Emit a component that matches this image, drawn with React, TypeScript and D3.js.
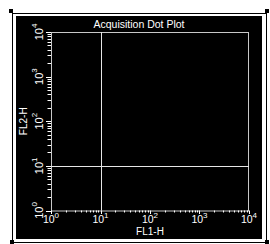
import * as d3 from "d3";

// chart content
const title = "Acquisition Dot Plot";
const xTitle = "FL1-H";
const yTitle = "FL2-H";
const decades = [0, 1, 2, 3, 4];
const xDomain = [1, 10000];
const yDomain = [1, 10000];
const quadrantX = 10;
const quadrantY = 10;

const W = 270;
const H = 244;
const FONT = "'Liberation Sans', Arial, sans-serif";

// plot area inside the black panel
const panel = { x0: 16, y0: 16, x1: 262, y1: 239 };
const plot = { x0: 51, y0: 32, x1: 249, y1: 210.5 };

export default function App() {
  const x = d3.scaleLog().domain(xDomain).range([plot.x0, plot.x1]);
  const y = d3.scaleLog().domain(yDomain).range([plot.y1, plot.y0]);

  const isMajor = (v: number) => Math.abs(Math.log10(v) - Math.round(Math.log10(v))) < 1e-9;
  const xTicks = x.ticks();
  const yTicks = y.ticks();

  // little black grab handles at the corners of the outer frame
  const handles = [
    [9, 9],
    [265, 9],
    [10, 240],
    [265, 240],
  ];

  return (
    <div style={{ position: "fixed", left: 0, top: 0 }}>
      <svg width={W} height={H} style={{ display: "block", fontFamily: FONT }}>
        <rect x={0} y={0} width={W} height={H} fill="#fff" />
        {/* outer frame */}
        <rect x={12.5} y={13.5} width={254} height={229} fill="none" stroke="#000" strokeWidth={1} />
        {handles.map(([hx, hy], i) => (
          <rect key={i} x={hx} y={hy} width={4} height={4} fill="#000" />
        ))}
        {/* black panel */}
        <rect x={panel.x0} y={panel.y0} width={panel.x1 - panel.x0} height={panel.y1 - panel.y0} fill="#000" />

        <text
          x={(panel.x0 + panel.x1) / 2}
          y={28}
          textAnchor="middle"
          fontSize={10.5}
          fill="#fff"
        >
          {title}
        </text>

        {/* plot frame */}
        <rect
          x={plot.x0 + 0.5}
          y={plot.y0 + 0.5}
          width={plot.x1 - plot.x0 - 1}
          height={plot.y1 - plot.y0}
          fill="none"
          stroke="#c8c8c8"
          strokeWidth={1}
        />

        {/* quadrant markers */}
        <line x1={Math.round(x(quadrantX)) + 0.5} x2={Math.round(x(quadrantX)) + 0.5} y1={plot.y0} y2={plot.y1} stroke="#e6e6e6" />
        <line x1={plot.x0} x2={plot.x1} y1={Math.round(y(quadrantY)) + 0.5} y2={Math.round(y(quadrantY)) + 0.5} stroke="#e6e6e6" />

        {/* x ticks */}
        {xTicks.map((t, i) => {
          const px = Math.round(x(t)) + 0.5;
          return (
            <line key={"xt" + i} x1={px} x2={px} y1={plot.y1} y2={plot.y1 + (isMajor(t) ? 3.5 : 2)} stroke="#fff" />
          );
        })}
        {/* y ticks */}
        {yTicks.map((t, i) => {
          const py = Math.round(y(t)) + 0.5;
          return (
            <line key={"yt" + i} x1={plot.x0 - (isMajor(t) ? 5 : 3.5)} x2={plot.x0} y1={py} y2={py} stroke="#fff" />
          );
        })}

        {/* x tick labels */}
        {decades.map((d) => (
          <text key={"xl" + d} x={x(Math.pow(10, d))} y={223} textAnchor="middle" fontSize={10.5} fill="#fff">
            <tspan>10</tspan>
            <tspan dy={-5} fontSize={8}>{d}</tspan>
          </text>
        ))}
        {/* y tick labels, rotated */}
        {decades.map((d) => {
          const py = y(Math.pow(10, d));
          return (
            <text
              key={"yl" + d}
              x={43}
              y={py}
              transform={`rotate(-90, 43, ${py})`}
              textAnchor="middle"
              fontSize={11}
              fill="#fff"
            >
              <tspan>10</tspan>
              <tspan dy={-6} fontSize={8}>{d}</tspan>
            </text>
          );
        })}

        {/* axis titles */}
        <text x={(plot.x0 + plot.x1) / 2} y={235} textAnchor="middle" fontSize={10} fill="#fff">
          {xTitle}
        </text>
        <text
          x={27}
          y={(plot.y0 + plot.y1) / 2}
          transform={`rotate(-90, 27, ${(plot.y0 + plot.y1) / 2})`}
          textAnchor="middle"
          fontSize={10}
          fill="#fff"
        >
          {yTitle}
        </text>
      </svg>
    </div>
  );
}
